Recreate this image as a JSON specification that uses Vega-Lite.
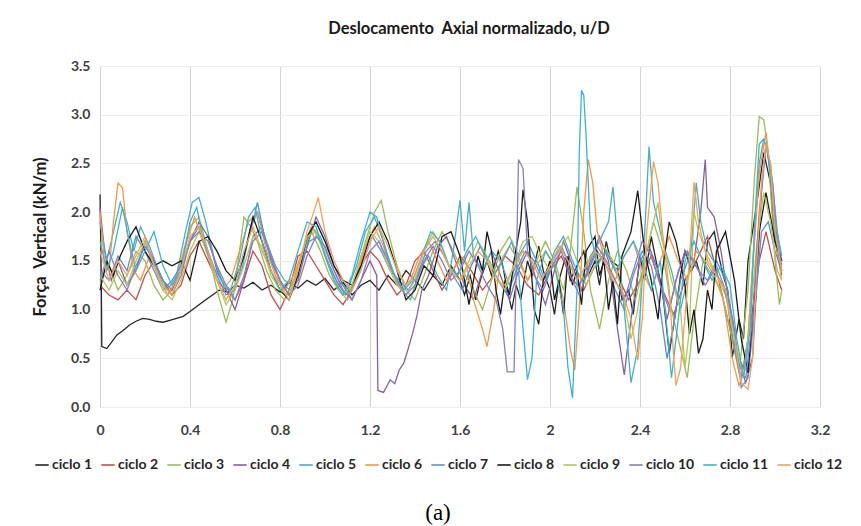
{
  "$schema": "https://vega.github.io/schema/vega-lite/v6.json",
  "width": 720,
  "height": 341,
  "autosize": {"type": "none"},
  "padding": {"left": 100, "top": 66, "right": 41, "bottom": 119},
  "background": "white",
  "title": {"text": "Deslocamento\u00a0 Axial normalizado, u/D", "font": "Lato", "fontSize": 16.5, "fontWeight": "bold", "color": "#1a1a1a", "anchor": "middle", "offset": 22, "dx": 9},
  "config": {
    "view": {"stroke": null},
    "axis": {"labelFont": "Lato", "labelFontWeight": "bold", "labelFontSize": 14, "labelColor": "#404040", "ticks": false, "domain": false, "titleFont": "Lato", "titleFontWeight": "bold", "titleFontSize": 16.5, "titleColor": "#1a1a1a"}
  },
  "datasets": {
    "c1": [
      {"u":0,"f":2.18},{"u":0.004,"f":1.6},{"u":0.006,"f":1.2},{"u":0.008,"f":0.62},{"u":0.03,"f":0.6},{"u":0.05,"f":0.66},{"u":0.075,"f":0.74},{"u":0.1,"f":0.78},{"u":0.13,"f":0.84},{"u":0.16,"f":0.88},{"u":0.19,"f":0.91},{"u":0.22,"f":0.9},{"u":0.25,"f":0.88},{"u":0.28,"f":0.87},{"u":0.31,"f":0.89},{"u":0.34,"f":0.91},{"u":0.37,"f":0.93},{"u":0.4,"f":0.98},{"u":0.44,"f":1.05},{"u":0.47,"f":1.1},{"u":0.5,"f":1.15},{"u":0.53,"f":1.2},{"u":0.57,"f":1.18},{"u":0.6,"f":1.25},{"u":0.64,"f":1.22},{"u":0.68,"f":1.28},{"u":0.72,"f":1.2},{"u":0.76,"f":1.25},{"u":0.8,"f":1.18},{"u":0.84,"f":1.28},{"u":0.88,"f":1.22},{"u":0.92,"f":1.3},{"u":0.96,"f":1.25},{"u":1.0,"f":1.32},{"u":1.04,"f":1.2},{"u":1.08,"f":1.28},{"u":1.12,"f":1.15},{"u":1.16,"f":1.25},{"u":1.2,"f":1.3},{"u":1.24,"f":1.2},{"u":1.28,"f":1.35},{"u":1.32,"f":1.25},{"u":1.36,"f":1.4},{"u":1.4,"f":1.3},{"u":1.44,"f":1.2},{"u":1.48,"f":1.35},{"u":1.52,"f":1.25},{"u":1.56,"f":1.45},{"u":1.6,"f":1.3},{"u":1.62,"f":1.15},{"u":1.645,"f":1.35},{"u":1.67,"f":1.1},{"u":1.69,"f":1.3},{"u":1.72,"f":1.5},{"u":1.74,"f":1.35},{"u":1.77,"f":1.6},{"u":1.79,"f":1.45},{"u":1.81,"f":1.2},{"u":1.83,"f":1.0},{"u":1.85,"f":1.25},{"u":1.87,"f":1.1},{"u":1.9,"f":1.5},{"u":1.92,"f":1.35},{"u":1.95,"f":1.65},{"u":1.97,"f":1.4},{"u":2.0,"f":1.2},{"u":2.02,"f":0.95},{"u":2.04,"f":1.3},{"u":2.07,"f":1.55},{"u":2.09,"f":1.3},{"u":2.12,"f":1.45},{"u":2.15,"f":1.6},{"u":2.17,"f":1.35},{"u":2.2,"f":1.5},{"u":2.22,"f":1.25},{"u":2.25,"f":1.7},{"u":2.27,"f":1.5},{"u":2.3,"f":1.45},{"u":2.32,"f":1.1},{"u":2.35,"f":1.2},{"u":2.37,"f":0.95},{"u":2.4,"f":1.55},{"u":2.42,"f":1.3},{"u":2.45,"f":1.75},{"u":2.48,"f":1.4},{"u":2.5,"f":1.2},{"u":2.53,"f":0.55},{"u":2.56,"f":1.0},{"u":2.58,"f":1.35},{"u":2.6,"f":1.6},{"u":2.63,"f":1.4},{"u":2.65,"f":1.5},{"u":2.68,"f":1.25},{"u":2.7,"f":1.7},{"u":2.73,"f":1.8},{"u":2.75,"f":1.55},{"u":2.77,"f":1.35},{"u":2.79,"f":1.2},{"u":2.81,"f":0.51},{"u":2.84,"f":0.9},{"u":2.86,"f":0.7},{"u":2.88,"f":1.5},{"u":2.92,"f":2.1},{"u":2.95,"f":2.61},{"u":2.98,"f":2.3},{"u":3.01,"f":1.6},{"u":3.03,"f":1.4}
    ],
    "c2": [
      {"u":0,"f":1.25},{"u":0.04,"f":1.15},{"u":0.08,"f":1.1},{"u":0.12,"f":1.2},{"u":0.16,"f":1.1},{"u":0.2,"f":1.35},{"u":0.24,"f":1.5},{"u":0.28,"f":1.3},{"u":0.32,"f":1.15},{"u":0.36,"f":1.25},{"u":0.4,"f":1.55},{"u":0.44,"f":1.7},{"u":0.48,"f":1.5},{"u":0.52,"f":1.3},{"u":0.56,"f":1.2},{"u":0.6,"f":1.1},{"u":0.64,"f":1.3},{"u":0.68,"f":1.6},{"u":0.72,"f":1.45},{"u":0.76,"f":1.15},{"u":0.8,"f":1.0},{"u":0.84,"f":1.2},{"u":0.88,"f":1.55},{"u":0.92,"f":1.6},{"u":0.96,"f":1.45},{"u":1.0,"f":1.3},{"u":1.04,"f":1.15},{"u":1.08,"f":1.05},{"u":1.12,"f":1.2},{"u":1.16,"f":1.45},{"u":1.2,"f":1.6},{"u":1.24,"f":1.5},{"u":1.28,"f":1.3},{"u":1.32,"f":1.15},{"u":1.36,"f":1.25},{"u":1.4,"f":1.5},{"u":1.44,"f":1.6},{"u":1.48,"f":1.4},{"u":1.52,"f":1.2},{"u":1.56,"f":1.35},{"u":1.6,"f":1.55},{"u":1.65,"f":1.4},{"u":1.7,"f":1.2},{"u":1.75,"f":1.35},{"u":1.8,"f":1.55},{"u":1.85,"f":1.45},{"u":1.9,"f":1.25},{"u":1.95,"f":1.15},{"u":2.0,"f":1.4},{"u":2.05,"f":1.55},{"u":2.1,"f":1.3},{"u":2.15,"f":1.2},{"u":2.2,"f":1.45},{"u":2.25,"f":1.6},{"u":2.3,"f":1.35},{"u":2.35,"f":1.1},{"u":2.4,"f":1.3},{"u":2.45,"f":1.55},{"u":2.5,"f":1.2},{"u":2.55,"f":0.95},{"u":2.6,"f":1.3},{"u":2.65,"f":1.5},{"u":2.7,"f":1.75},{"u":2.74,"f":1.4},{"u":2.78,"f":1.0},{"u":2.82,"f":0.6},{"u":2.86,"f":0.4},{"u":2.9,"f":1.0},{"u":2.93,"f":1.5},{"u":2.96,"f":1.8},{"u":3.0,"f":1.4},{"u":3.03,"f":1.2}
    ],
    "c3": [
      {"u":0,"f":1.3},{"u":0.04,"f":1.45},{"u":0.08,"f":1.2},{"u":0.12,"f":1.35},{"u":0.16,"f":1.6},{"u":0.2,"f":1.5},{"u":0.24,"f":1.25},{"u":0.28,"f":1.1},{"u":0.32,"f":1.2},{"u":0.36,"f":1.5},{"u":0.4,"f":1.85},{"u":0.44,"f":1.95},{"u":0.48,"f":1.6},{"u":0.52,"f":1.2},{"u":0.56,"f":0.87},{"u":0.59,"f":1.1},{"u":0.62,"f":1.6},{"u":0.64,"f":1.95},{"u":0.67,"f":1.85},{"u":0.7,"f":1.7},{"u":0.74,"f":1.4},{"u":0.78,"f":1.2},{"u":0.82,"f":1.1},{"u":0.86,"f":1.3},{"u":0.9,"f":1.6},{"u":0.94,"f":1.8},{"u":0.98,"f":1.6},{"u":1.02,"f":1.35},{"u":1.06,"f":1.2},{"u":1.1,"f":1.1},{"u":1.14,"f":1.35},{"u":1.18,"f":1.7},{"u":1.22,"f":2.0},{"u":1.25,"f":2.12},{"u":1.28,"f":1.8},{"u":1.32,"f":1.45},{"u":1.36,"f":1.2},{"u":1.4,"f":1.1},{"u":1.44,"f":1.35},{"u":1.48,"f":1.6},{"u":1.52,"f":1.8},{"u":1.56,"f":1.65},{"u":1.6,"f":1.45},{"u":1.65,"f":1.25},{"u":1.7,"f":1.0},{"u":1.74,"f":1.3},{"u":1.78,"f":1.6},{"u":1.82,"f":1.75},{"u":1.86,"f":1.55},{"u":1.9,"f":1.3},{"u":1.94,"f":1.5},{"u":1.98,"f":1.7},{"u":2.02,"f":1.5},{"u":2.06,"f":1.2},{"u":2.09,"f":1.6},{"u":2.12,"f":2.26},{"u":2.15,"f":1.8},{"u":2.18,"f":1.2},{"u":2.22,"f":0.8},{"u":2.26,"f":1.3},{"u":2.3,"f":1.6},{"u":2.34,"f":1.4},{"u":2.38,"f":1.1},{"u":2.42,"f":1.5},{"u":2.46,"f":1.9},{"u":2.5,"f":1.6},{"u":2.54,"f":1.0},{"u":2.58,"f":0.6},{"u":2.61,"f":0.3},{"u":2.64,"f":0.9},{"u":2.68,"f":1.5},{"u":2.72,"f":1.35},{"u":2.76,"f":1.2},{"u":2.8,"f":0.8},{"u":2.84,"f":0.35},{"u":2.88,"f":1.2},{"u":2.91,"f":2.4},{"u":2.93,"f":2.98},{"u":2.95,"f":2.95},{"u":2.97,"f":2.6},{"u":3.0,"f":1.5},{"u":3.02,"f":1.05},{"u":3.03,"f":1.2}
    ],
    "c4": [
      {"u":0,"f":2.05},{"u":0.02,"f":1.6},{"u":0.05,"f":1.3},{"u":0.08,"f":1.5},{"u":0.12,"f":1.25},{"u":0.16,"f":1.4},{"u":0.2,"f":1.7},{"u":0.24,"f":1.5},{"u":0.28,"f":1.3},{"u":0.32,"f":1.2},{"u":0.36,"f":1.4},{"u":0.4,"f":1.7},{"u":0.44,"f":1.9},{"u":0.48,"f":1.75},{"u":0.52,"f":1.4},{"u":0.56,"f":1.2},{"u":0.6,"f":1.0},{"u":0.64,"f":1.3},{"u":0.68,"f":1.75},{"u":0.72,"f":1.85},{"u":0.76,"f":1.5},{"u":0.8,"f":1.3},{"u":0.84,"f":1.15},{"u":0.88,"f":1.3},{"u":0.92,"f":1.65},{"u":0.96,"f":1.95},{"u":1.0,"f":1.75},{"u":1.04,"f":1.45},{"u":1.08,"f":1.25},{"u":1.12,"f":1.1},{"u":1.16,"f":1.3},{"u":1.2,"f":1.5},{"u":1.23,"f":1.35},{"u":1.235,"f":0.17},{"u":1.26,"f":0.15},{"u":1.29,"f":0.28},{"u":1.31,"f":0.24},{"u":1.33,"f":0.38},{"u":1.35,"f":0.45},{"u":1.37,"f":0.6},{"u":1.39,"f":0.76},{"u":1.41,"f":0.95},{"u":1.43,"f":1.2},{"u":1.46,"f":1.35},{"u":1.5,"f":1.65},{"u":1.54,"f":1.75},{"u":1.58,"f":1.5},{"u":1.62,"f":1.25},{"u":1.66,"f":1.1},{"u":1.7,"f":1.4},{"u":1.74,"f":1.6},{"u":1.78,"f":1.35},{"u":1.82,"f":1.1},{"u":1.86,"f":1.4},{"u":1.9,"f":1.6},{"u":1.94,"f":1.3},{"u":1.98,"f":1.05},{"u":2.02,"f":1.4},{"u":2.06,"f":1.7},{"u":2.1,"f":1.45},{"u":2.14,"f":1.2},{"u":2.18,"f":1.5},{"u":2.22,"f":1.75},{"u":2.26,"f":1.5},{"u":2.3,"f":0.8},{"u":2.33,"f":0.33},{"u":2.36,"f":0.9},{"u":2.4,"f":1.5},{"u":2.44,"f":1.65},{"u":2.48,"f":1.4},{"u":2.52,"f":0.9},{"u":2.56,"f":1.3},{"u":2.6,"f":1.6},{"u":2.64,"f":1.5},{"u":2.67,"f":2.0},{"u":2.69,"f":2.54},{"u":2.7,"f":2.05},{"u":2.73,"f":1.95},{"u":2.76,"f":1.6},{"u":2.8,"f":1.0},{"u":2.84,"f":0.45},{"u":2.87,"f":0.25},{"u":2.9,"f":0.5},{"u":2.92,"f":1.3},{"u":2.94,"f":2.2},{"u":2.96,"f":2.7},{"u":2.98,"f":2.4},{"u":3.0,"f":1.7},{"u":3.03,"f":1.35}
    ],
    "c5": [
      {"u":0,"f":1.9},{"u":0.03,"f":1.5},{"u":0.06,"f":1.8},{"u":0.09,"f":2.1},{"u":0.12,"f":1.9},{"u":0.15,"f":1.6},{"u":0.18,"f":1.85},{"u":0.22,"f":1.65},{"u":0.26,"f":1.4},{"u":0.3,"f":1.2},{"u":0.34,"f":1.35},{"u":0.38,"f":1.8},{"u":0.41,"f":2.1},{"u":0.44,"f":2.15},{"u":0.47,"f":1.9},{"u":0.51,"f":1.5},{"u":0.55,"f":1.25},{"u":0.59,"f":1.15},{"u":0.63,"f":1.4},{"u":0.67,"f":1.85},{"u":0.7,"f":2.0},{"u":0.74,"f":1.7},{"u":0.78,"f":1.45},{"u":0.82,"f":1.3},{"u":0.86,"f":1.25},{"u":0.9,"f":1.55},{"u":0.94,"f":1.85},{"u":0.98,"f":1.75},{"u":1.02,"f":1.5},{"u":1.06,"f":1.3},{"u":1.1,"f":1.2},{"u":1.14,"f":1.45},{"u":1.18,"f":1.8},{"u":1.22,"f":1.95},{"u":1.26,"f":1.7},{"u":1.3,"f":1.4},{"u":1.34,"f":1.2},{"u":1.38,"f":1.1},{"u":1.42,"f":1.4},{"u":1.46,"f":1.55},{"u":1.5,"f":1.35},{"u":1.54,"f":1.2},{"u":1.57,"f":1.6},{"u":1.6,"f":2.12},{"u":1.62,"f":1.6},{"u":1.64,"f":2.1},{"u":1.66,"f":1.55},{"u":1.7,"f":1.4},{"u":1.74,"f":1.6},{"u":1.78,"f":1.5},{"u":1.82,"f":1.25},{"u":1.86,"f":1.55},{"u":1.9,"f":1.7},{"u":1.94,"f":1.5},{"u":1.98,"f":1.3},{"u":2.02,"f":1.6},{"u":2.06,"f":1.75},{"u":2.1,"f":1.5},{"u":2.14,"f":1.3},{"u":2.18,"f":1.55},{"u":2.22,"f":1.7},{"u":2.26,"f":1.9},{"u":2.28,"f":2.26},{"u":2.3,"f":1.7},{"u":2.33,"f":1.0},{"u":2.36,"f":0.25},{"u":2.39,"f":0.6},{"u":2.41,"f":1.3},{"u":2.43,"f":2.2},{"u":2.44,"f":2.67},{"u":2.46,"f":2.1},{"u":2.5,"f":1.7},{"u":2.54,"f":1.4},{"u":2.58,"f":1.0},{"u":2.62,"f":1.4},{"u":2.65,"f":2.3},{"u":2.67,"f":1.9},{"u":2.7,"f":1.6},{"u":2.74,"f":1.45},{"u":2.78,"f":1.2},{"u":2.82,"f":0.6},{"u":2.85,"f":0.3},{"u":2.88,"f":0.7},{"u":2.91,"f":1.8},{"u":2.93,"f":2.5},{"u":2.95,"f":2.75},{"u":2.98,"f":2.5},{"u":3.01,"f":1.8},{"u":3.03,"f":1.5}
    ],
    "c6": [
      {"u":0,"f":2.0},{"u":0.02,"f":1.5},{"u":0.04,"f":1.4},{"u":0.06,"f":1.9},{"u":0.08,"f":2.3},{"u":0.1,"f":2.25},{"u":0.12,"f":1.8},{"u":0.15,"f":1.4},{"u":0.18,"f":1.3},{"u":0.22,"f":1.55},{"u":0.26,"f":1.35},{"u":0.3,"f":1.15},{"u":0.34,"f":1.3},{"u":0.38,"f":1.65},{"u":0.42,"f":1.95},{"u":0.46,"f":1.7},{"u":0.5,"f":1.4},{"u":0.54,"f":1.2},{"u":0.58,"f":1.3},{"u":0.62,"f":1.6},{"u":0.66,"f":1.9},{"u":0.7,"f":2.0},{"u":0.74,"f":1.6},{"u":0.78,"f":1.35},{"u":0.82,"f":1.2},{"u":0.86,"f":1.35},{"u":0.9,"f":1.6},{"u":0.94,"f":1.85},{"u":0.98,"f":1.7},{"u":1.02,"f":1.45},{"u":1.06,"f":1.25},{"u":1.1,"f":1.15},{"u":1.14,"f":1.35},{"u":1.18,"f":1.65},{"u":1.22,"f":1.85},{"u":1.26,"f":1.65},{"u":1.3,"f":1.35},{"u":1.34,"f":1.2},{"u":1.38,"f":1.3},{"u":1.42,"f":1.55},{"u":1.46,"f":1.7},{"u":1.5,"f":1.5},{"u":1.54,"f":1.3},{"u":1.58,"f":1.45},{"u":1.62,"f":1.55},{"u":1.66,"f":1.1},{"u":1.7,"f":0.8},{"u":1.72,"f":0.62},{"u":1.75,"f":1.0},{"u":1.78,"f":1.5},{"u":1.82,"f":1.65},{"u":1.86,"f":1.5},{"u":1.9,"f":1.3},{"u":1.94,"f":1.45},{"u":1.98,"f":1.6},{"u":2.02,"f":1.45},{"u":2.06,"f":1.1},{"u":2.09,"f":0.6},{"u":2.11,"f":0.38},{"u":2.13,"f":1.0},{"u":2.15,"f":2.0},{"u":2.17,"f":2.54},{"u":2.19,"f":2.3},{"u":2.21,"f":1.8},{"u":2.25,"f":1.45},{"u":2.29,"f":1.3},{"u":2.33,"f":1.55},{"u":2.37,"f":1.7},{"u":2.41,"f":1.4},{"u":2.45,"f":1.2},{"u":2.49,"f":1.5},{"u":2.53,"f":1.75},{"u":2.57,"f":1.5},{"u":2.61,"f":1.3},{"u":2.65,"f":1.6},{"u":2.69,"f":1.5},{"u":2.73,"f":1.35},{"u":2.77,"f":1.1},{"u":2.81,"f":0.5},{"u":2.84,"f":0.22},{"u":2.87,"f":0.4},{"u":2.9,"f":1.4},{"u":2.93,"f":2.4},{"u":2.96,"f":2.82},{"u":2.99,"f":2.2},{"u":3.01,"f":1.6},{"u":3.03,"f":1.3}
    ],
    "c7": [
      {"u":0,"f":1.4},{"u":0.04,"f":1.3},{"u":0.08,"f":1.55},{"u":0.12,"f":1.4},{"u":0.16,"f":1.75},{"u":0.2,"f":1.6},{"u":0.24,"f":1.4},{"u":0.28,"f":1.2},{"u":0.32,"f":1.3},{"u":0.36,"f":1.45},{"u":0.4,"f":1.7},{"u":0.44,"f":1.85},{"u":0.48,"f":1.6},{"u":0.52,"f":1.35},{"u":0.56,"f":1.15},{"u":0.6,"f":1.2},{"u":0.64,"f":1.55},{"u":0.68,"f":1.9},{"u":0.7,"f":2.1},{"u":0.73,"f":1.75},{"u":0.77,"f":1.45},{"u":0.81,"f":1.25},{"u":0.85,"f":1.2},{"u":0.89,"f":1.45},{"u":0.93,"f":1.7},{"u":0.97,"f":1.75},{"u":1.01,"f":1.5},{"u":1.05,"f":1.3},{"u":1.09,"f":1.15},{"u":1.13,"f":1.25},{"u":1.17,"f":1.5},{"u":1.21,"f":1.75},{"u":1.25,"f":1.6},{"u":1.29,"f":1.4},{"u":1.33,"f":1.3},{"u":1.37,"f":1.2},{"u":1.41,"f":1.35},{"u":1.45,"f":1.6},{"u":1.49,"f":1.7},{"u":1.53,"f":1.55},{"u":1.57,"f":1.35},{"u":1.61,"f":1.2},{"u":1.65,"f":1.45},{"u":1.69,"f":1.65},{"u":1.73,"f":1.5},{"u":1.77,"f":1.3},{"u":1.81,"f":1.15},{"u":1.85,"f":1.4},{"u":1.89,"f":1.6},{"u":1.93,"f":1.5},{"u":1.97,"f":1.3},{"u":2.01,"f":1.5},{"u":2.05,"f":1.65},{"u":2.09,"f":1.45},{"u":2.13,"f":1.25},{"u":2.17,"f":1.4},{"u":2.21,"f":1.6},{"u":2.25,"f":1.45},{"u":2.29,"f":1.2},{"u":2.33,"f":1.0},{"u":2.37,"f":1.35},{"u":2.41,"f":1.6},{"u":2.45,"f":1.45},{"u":2.49,"f":1.0},{"u":2.52,"f":0.5},{"u":2.55,"f":0.85},{"u":2.58,"f":1.3},{"u":2.62,"f":1.55},{"u":2.66,"f":1.4},{"u":2.7,"f":1.3},{"u":2.74,"f":1.5},{"u":2.78,"f":1.3},{"u":2.82,"f":0.8},{"u":2.85,"f":0.2},{"u":2.88,"f":0.3},{"u":2.91,"f":1.0},{"u":2.94,"f":1.8},{"u":2.97,"f":1.9},{"u":3.0,"f":1.6},{"u":3.03,"f":1.4}
    ],
    "c8": [
      {"u":0,"f":1.2},{"u":0.03,"f":1.5},{"u":0.06,"f":1.35},{"u":0.09,"f":1.55},{"u":0.12,"f":1.7},{"u":0.16,"f":1.85},{"u":0.2,"f":1.6},{"u":0.24,"f":1.45},{"u":0.28,"f":1.5},{"u":0.32,"f":1.45},{"u":0.36,"f":1.5},{"u":0.4,"f":1.3},{"u":0.44,"f":1.7},{"u":0.48,"f":1.75},{"u":0.52,"f":1.6},{"u":0.56,"f":1.4},{"u":0.6,"f":1.3},{"u":0.64,"f":1.55},{"u":0.68,"f":1.95},{"u":0.72,"f":1.7},{"u":0.76,"f":1.4},{"u":0.8,"f":1.2},{"u":0.84,"f":1.1},{"u":0.88,"f":1.35},{"u":0.92,"f":1.75},{"u":0.96,"f":1.9},{"u":1.0,"f":1.7},{"u":1.04,"f":1.45},{"u":1.08,"f":1.3},{"u":1.12,"f":1.25},{"u":1.16,"f":1.45},{"u":1.2,"f":1.75},{"u":1.24,"f":1.9},{"u":1.28,"f":1.7},{"u":1.32,"f":1.4},{"u":1.36,"f":1.1},{"u":1.4,"f":1.2},{"u":1.44,"f":1.45},{"u":1.48,"f":1.35},{"u":1.52,"f":1.75},{"u":1.56,"f":1.8},{"u":1.6,"f":1.55},{"u":1.62,"f":1.3},{"u":1.64,"f":1.05},{"u":1.66,"f":1.3},{"u":1.68,"f":1.55},{"u":1.7,"f":1.4},{"u":1.72,"f":1.8},{"u":1.74,"f":1.6},{"u":1.76,"f":1.2},{"u":1.78,"f":0.95},{"u":1.8,"f":1.3},{"u":1.82,"f":1.15},{"u":1.84,"f":1.5},{"u":1.87,"f":1.9},{"u":1.88,"f":2.23},{"u":1.9,"f":1.9},{"u":1.93,"f":1.0},{"u":1.95,"f":0.85},{"u":1.97,"f":1.3},{"u":2.0,"f":1.5},{"u":2.02,"f":1.1},{"u":2.04,"f":1.3},{"u":2.06,"f":0.95},{"u":2.08,"f":1.55},{"u":2.1,"f":1.25},{"u":2.12,"f":1.4},{"u":2.14,"f":1.05},{"u":2.16,"f":1.6},{"u":2.2,"f":1.75},{"u":2.22,"f":1.35},{"u":2.24,"f":1.5},{"u":2.26,"f":1.0},{"u":2.28,"f":1.3},{"u":2.3,"f":0.85},{"u":2.32,"f":1.55},{"u":2.36,"f":1.8},{"u":2.39,"f":2.22},{"u":2.42,"f":1.6},{"u":2.45,"f":1.3},{"u":2.48,"f":0.9},{"u":2.5,"f":1.4},{"u":2.53,"f":1.9},{"u":2.56,"f":1.7},{"u":2.6,"f":1.25},{"u":2.62,"f":0.75},{"u":2.64,"f":1.0},{"u":2.66,"f":0.55},{"u":2.68,"f":0.7},{"u":2.7,"f":1.2},{"u":2.72,"f":1.0},{"u":2.74,"f":1.6},{"u":2.78,"f":1.8},{"u":2.82,"f":1.3},{"u":2.85,"f":0.7},{"u":2.88,"f":0.35},{"u":2.9,"f":0.9},{"u":2.93,"f":1.8},{"u":2.96,"f":2.2},{"u":3.0,"f":1.7},{"u":3.03,"f":1.5}
    ],
    "c9": [
      {"u":0,"f":1.35},{"u":0.04,"f":1.2},{"u":0.08,"f":1.4},{"u":0.12,"f":1.25},{"u":0.16,"f":1.5},{"u":0.2,"f":1.7},{"u":0.24,"f":1.45},{"u":0.28,"f":1.2},{"u":0.32,"f":1.1},{"u":0.36,"f":1.3},{"u":0.4,"f":1.6},{"u":0.44,"f":1.8},{"u":0.48,"f":1.55},{"u":0.52,"f":1.3},{"u":0.56,"f":1.05},{"u":0.6,"f":1.2},{"u":0.64,"f":1.45},{"u":0.68,"f":1.75},{"u":0.72,"f":1.65},{"u":0.76,"f":1.35},{"u":0.8,"f":1.2},{"u":0.84,"f":1.15},{"u":0.88,"f":1.4},{"u":0.92,"f":1.75},{"u":0.96,"f":1.8},{"u":1.0,"f":1.55},{"u":1.04,"f":1.3},{"u":1.08,"f":1.15},{"u":1.12,"f":1.25},{"u":1.16,"f":1.55},{"u":1.2,"f":1.8},{"u":1.24,"f":1.7},{"u":1.28,"f":1.45},{"u":1.32,"f":1.25},{"u":1.36,"f":1.15},{"u":1.4,"f":1.3},{"u":1.44,"f":1.6},{"u":1.48,"f":1.8},{"u":1.52,"f":1.65},{"u":1.56,"f":1.4},{"u":1.6,"f":1.3},{"u":1.64,"f":1.5},{"u":1.68,"f":1.7},{"u":1.72,"f":1.55},{"u":1.76,"f":1.35},{"u":1.8,"f":1.2},{"u":1.84,"f":1.45},{"u":1.88,"f":1.7},{"u":1.92,"f":1.75},{"u":1.96,"f":1.55},{"u":2.0,"f":1.4},{"u":2.04,"f":1.6},{"u":2.08,"f":1.75},{"u":2.12,"f":1.5},{"u":2.16,"f":1.25},{"u":2.2,"f":1.45},{"u":2.24,"f":1.65},{"u":2.28,"f":1.5},{"u":2.32,"f":1.2},{"u":2.36,"f":0.7},{"u":2.39,"f":1.0},{"u":2.42,"f":1.5},{"u":2.45,"f":1.8},{"u":2.48,"f":2.1},{"u":2.5,"f":1.7},{"u":2.54,"f":1.3},{"u":2.58,"f":1.0},{"u":2.6,"f":0.4},{"u":2.62,"f":0.8},{"u":2.64,"f":2.0},{"u":2.66,"f":1.8},{"u":2.7,"f":1.55},{"u":2.74,"f":1.35},{"u":2.78,"f":1.15},{"u":2.82,"f":0.7},{"u":2.86,"f":0.3},{"u":2.89,"f":0.9},{"u":2.92,"f":1.7},{"u":2.95,"f":2.2},{"u":2.98,"f":1.9},{"u":3.01,"f":1.4},{"u":3.03,"f":1.3}
    ],
    "c10": [
      {"u":0,"f":1.3},{"u":0.04,"f":1.6},{"u":0.08,"f":1.35},{"u":0.12,"f":1.2},{"u":0.16,"f":1.45},{"u":0.2,"f":1.65},{"u":0.24,"f":1.5},{"u":0.28,"f":1.25},{"u":0.32,"f":1.15},{"u":0.36,"f":1.35},{"u":0.4,"f":1.7},{"u":0.44,"f":1.8},{"u":0.48,"f":1.7},{"u":0.52,"f":1.45},{"u":0.56,"f":1.25},{"u":0.6,"f":1.1},{"u":0.64,"f":1.35},{"u":0.68,"f":1.7},{"u":0.72,"f":1.8},{"u":0.76,"f":1.55},{"u":0.8,"f":1.3},{"u":0.84,"f":1.15},{"u":0.88,"f":1.25},{"u":0.92,"f":1.55},{"u":0.96,"f":1.75},{"u":1.0,"f":1.65},{"u":1.04,"f":1.4},{"u":1.08,"f":1.2},{"u":1.12,"f":1.1},{"u":1.16,"f":1.3},{"u":1.2,"f":1.6},{"u":1.24,"f":1.7},{"u":1.28,"f":1.5},{"u":1.32,"f":1.3},{"u":1.36,"f":1.15},{"u":1.4,"f":1.25},{"u":1.44,"f":1.5},{"u":1.48,"f":1.65},{"u":1.52,"f":1.5},{"u":1.56,"f":1.3},{"u":1.6,"f":1.4},{"u":1.64,"f":1.6},{"u":1.68,"f":1.45},{"u":1.72,"f":1.25},{"u":1.76,"f":1.1},{"u":1.79,"f":0.8},{"u":1.81,"f":0.36},{"u":1.84,"f":0.36},{"u":1.85,"f":1.4},{"u":1.86,"f":2.54},{"u":1.88,"f":2.45},{"u":1.9,"f":1.6},{"u":1.93,"f":1.35},{"u":1.97,"f":1.2},{"u":2.01,"f":1.45},{"u":2.05,"f":1.6},{"u":2.09,"f":1.35},{"u":2.13,"f":1.15},{"u":2.17,"f":1.4},{"u":2.21,"f":1.65},{"u":2.25,"f":1.5},{"u":2.29,"f":1.3},{"u":2.33,"f":1.1},{"u":2.37,"f":1.4},{"u":2.41,"f":1.7},{"u":2.45,"f":1.55},{"u":2.49,"f":1.25},{"u":2.53,"f":1.0},{"u":2.57,"f":1.4},{"u":2.61,"f":1.6},{"u":2.65,"f":1.45},{"u":2.69,"f":1.25},{"u":2.73,"f":1.4},{"u":2.77,"f":1.25},{"u":2.81,"f":0.9},{"u":2.84,"f":0.35},{"u":2.87,"f":0.3},{"u":2.9,"f":0.9},{"u":2.93,"f":2.0},{"u":2.96,"f":2.7},{"u":2.99,"f":2.3},{"u":3.01,"f":1.7},{"u":3.03,"f":1.45}
    ],
    "c11": [
      {"u":0,"f":1.7},{"u":0.03,"f":1.4},{"u":0.06,"f":1.6},{"u":0.1,"f":2.05},{"u":0.13,"f":1.7},{"u":0.16,"f":1.4},{"u":0.2,"f":1.6},{"u":0.24,"f":1.8},{"u":0.28,"f":1.45},{"u":0.32,"f":1.25},{"u":0.36,"f":1.4},{"u":0.4,"f":1.9},{"u":0.43,"f":2.05},{"u":0.46,"f":1.7},{"u":0.5,"f":1.45},{"u":0.54,"f":1.3},{"u":0.58,"f":1.2},{"u":0.62,"f":1.5},{"u":0.66,"f":1.95},{"u":0.69,"f":2.05},{"u":0.72,"f":1.7},{"u":0.76,"f":1.4},{"u":0.8,"f":1.2},{"u":0.84,"f":1.3},{"u":0.88,"f":1.6},{"u":0.92,"f":1.9},{"u":0.96,"f":1.85},{"u":1.0,"f":1.55},{"u":1.04,"f":1.3},{"u":1.08,"f":1.15},{"u":1.12,"f":1.35},{"u":1.16,"f":1.7},{"u":1.2,"f":2.0},{"u":1.23,"f":1.95},{"u":1.27,"f":1.6},{"u":1.31,"f":1.35},{"u":1.35,"f":1.2},{"u":1.39,"f":1.3},{"u":1.43,"f":1.55},{"u":1.47,"f":1.8},{"u":1.51,"f":1.7},{"u":1.55,"f":1.45},{"u":1.59,"f":1.35},{"u":1.63,"f":1.6},{"u":1.67,"f":1.75},{"u":1.71,"f":1.55},{"u":1.75,"f":1.35},{"u":1.79,"f":1.5},{"u":1.83,"f":1.7},{"u":1.86,"f":1.4},{"u":1.88,"f":0.8},{"u":1.9,"f":0.28},{"u":1.92,"f":0.5},{"u":1.94,"f":1.3},{"u":1.98,"f":1.6},{"u":2.02,"f":1.45},{"u":2.06,"f":1.0},{"u":2.08,"f":0.4},{"u":2.1,"f":0.09},{"u":2.12,"f":1.2},{"u":2.13,"f":2.6},{"u":2.14,"f":3.25},{"u":2.15,"f":3.2},{"u":2.16,"f":2.8},{"u":2.18,"f":1.8},{"u":2.21,"f":1.45},{"u":2.25,"f":1.6},{"u":2.29,"f":1.4},{"u":2.33,"f":1.55},{"u":2.37,"f":1.7},{"u":2.41,"f":1.5},{"u":2.45,"f":1.2},{"u":2.49,"f":1.5},{"u":2.52,"f":0.8},{"u":2.54,"f":0.3},{"u":2.57,"f":0.9},{"u":2.6,"f":1.5},{"u":2.64,"f":1.7},{"u":2.68,"f":1.5},{"u":2.72,"f":1.3},{"u":2.76,"f":1.45},{"u":2.8,"f":1.25},{"u":2.83,"f":0.7},{"u":2.86,"f":0.3},{"u":2.89,"f":0.8},{"u":2.91,"f":1.9},{"u":2.93,"f":2.7},{"u":2.95,"f":2.75},{"u":2.97,"f":2.6},{"u":3.0,"f":1.9},{"u":3.03,"f":1.55}
    ],
    "c12": [
      {"u":0,"f":1.6},{"u":0.04,"f":1.3},{"u":0.08,"f":1.5},{"u":0.12,"f":1.35},{"u":0.16,"f":1.55},{"u":0.2,"f":1.75},{"u":0.24,"f":1.45},{"u":0.28,"f":1.25},{"u":0.32,"f":1.15},{"u":0.36,"f":1.4},{"u":0.4,"f":1.75},{"u":0.44,"f":1.85},{"u":0.48,"f":1.6},{"u":0.52,"f":1.3},{"u":0.56,"f":1.1},{"u":0.6,"f":1.25},{"u":0.64,"f":1.6},{"u":0.68,"f":1.85},{"u":0.72,"f":1.6},{"u":0.76,"f":1.4},{"u":0.8,"f":1.25},{"u":0.84,"f":1.1},{"u":0.88,"f":1.4},{"u":0.92,"f":1.8},{"u":0.95,"f":2.0},{"u":0.97,"f":2.15},{"u":1.0,"f":1.8},{"u":1.04,"f":1.5},{"u":1.08,"f":1.3},{"u":1.12,"f":1.2},{"u":1.16,"f":1.4},{"u":1.2,"f":1.7},{"u":1.24,"f":1.85},{"u":1.28,"f":1.65},{"u":1.32,"f":1.4},{"u":1.36,"f":1.25},{"u":1.4,"f":1.35},{"u":1.44,"f":1.6},{"u":1.48,"f":1.75},{"u":1.52,"f":1.6},{"u":1.56,"f":1.4},{"u":1.6,"f":1.3},{"u":1.64,"f":1.45},{"u":1.68,"f":1.6},{"u":1.72,"f":1.5},{"u":1.76,"f":1.3},{"u":1.8,"f":1.25},{"u":1.84,"f":1.45},{"u":1.88,"f":1.6},{"u":1.92,"f":1.5},{"u":1.96,"f":1.3},{"u":2.0,"f":1.45},{"u":2.04,"f":1.65},{"u":2.08,"f":1.5},{"u":2.12,"f":1.3},{"u":2.16,"f":1.45},{"u":2.2,"f":1.6},{"u":2.24,"f":1.5},{"u":2.28,"f":1.3},{"u":2.32,"f":1.2},{"u":2.36,"f":0.9},{"u":2.39,"f":0.48},{"u":2.41,"f":0.9},{"u":2.43,"f":1.8},{"u":2.46,"f":2.52},{"u":2.48,"f":2.3},{"u":2.5,"f":1.8},{"u":2.53,"f":1.2},{"u":2.55,"f":0.5},{"u":2.56,"f":0.22},{"u":2.58,"f":0.4},{"u":2.61,"f":1.2},{"u":2.63,"f":1.9},{"u":2.64,"f":2.31},{"u":2.66,"f":1.9},{"u":2.7,"f":1.5},{"u":2.74,"f":1.35},{"u":2.78,"f":1.2},{"u":2.82,"f":0.7},{"u":2.85,"f":0.25},{"u":2.88,"f":0.18},{"u":2.9,"f":0.5},{"u":2.92,"f":1.5},{"u":2.94,"f":2.3},{"u":2.96,"f":2.7},{"u":2.98,"f":2.5},{"u":3.0,"f":1.8},{"u":3.03,"f":1.4}
    ]
  },
  "encoding": {
    "x": {"field": "u", "type": "quantitative", "scale": {"domain": [0, 3.2], "nice": false}, "axis": {"values": [0, 0.4, 0.8, 1.2, 1.6, 2, 2.4, 2.8, 3.2], "format": "~g", "title": null, "labelPadding": 16, "gridColor": "#d4d4d4", "labelFlush": false}},
    "y": {"field": "f", "type": "quantitative", "scale": {"domain": [0, 3.5], "nice": false}, "axis": {"values": [0, 0.5, 1, 1.5, 2, 2.5, 3, 3.5], "format": ".1f", "title": "Força\u00a0 Vertical (kN/m)", "labelPadding": 10, "titlePadding": 22, "gridColor": "#ebebeb"}},
    "color": {"type": "nominal", "scale": {"domain": ["ciclo 1","ciclo 2","ciclo 3","ciclo 4","ciclo 5","ciclo 6","ciclo 7","ciclo 8","ciclo 9","ciclo 10","ciclo 11","ciclo 12"], "range": ["#262626","#c0504d","#9bbb59","#8064a2","#4bacc6","#f79646","#5b8fd4","#1a1a1a","#b0c85e","#8d7cc0","#3fb2cf","#f4a259"]},
      "legend": {"orient": "none", "legendX": -66, "legendY": 391, "direction": "horizontal", "columns": 12, "symbolType": "stroke", "symbolSize": 180, "symbolStrokeWidth": 1.6, "columnPadding": 5, "labelOffset": 2, "labelFont": "Lato", "labelFontWeight": "bold", "labelFontSize": 14, "labelColor": "#262626", "title": "(a)", "titleOrient": "bottom", "titleAnchor": "middle", "titleFont": "Liberation Serif", "titleFontWeight": "normal", "titleFontSize": 23, "titleColor": "#000000", "titlePadding": 30}}
  },
  "layer": [
    {"data": {"name": "c1"}, "mark": {"type": "line", "strokeWidth": 1.3}, "encoding": {"color": {"datum": "ciclo 1"}}},
    {"data": {"name": "c2"}, "mark": {"type": "line", "strokeWidth": 1.3}, "encoding": {"color": {"datum": "ciclo 2"}}},
    {"data": {"name": "c3"}, "mark": {"type": "line", "strokeWidth": 1.3}, "encoding": {"color": {"datum": "ciclo 3"}}},
    {"data": {"name": "c4"}, "mark": {"type": "line", "strokeWidth": 1.3}, "encoding": {"color": {"datum": "ciclo 4"}}},
    {"data": {"name": "c5"}, "mark": {"type": "line", "strokeWidth": 1.3}, "encoding": {"color": {"datum": "ciclo 5"}}},
    {"data": {"name": "c6"}, "mark": {"type": "line", "strokeWidth": 1.3}, "encoding": {"color": {"datum": "ciclo 6"}}},
    {"data": {"name": "c7"}, "mark": {"type": "line", "strokeWidth": 1.3}, "encoding": {"color": {"datum": "ciclo 7"}}},
    {"data": {"name": "c8"}, "mark": {"type": "line", "strokeWidth": 1.3}, "encoding": {"color": {"datum": "ciclo 8"}}},
    {"data": {"name": "c9"}, "mark": {"type": "line", "strokeWidth": 1.3}, "encoding": {"color": {"datum": "ciclo 9"}}},
    {"data": {"name": "c10"}, "mark": {"type": "line", "strokeWidth": 1.3}, "encoding": {"color": {"datum": "ciclo 10"}}},
    {"data": {"name": "c11"}, "mark": {"type": "line", "strokeWidth": 1.3}, "encoding": {"color": {"datum": "ciclo 11"}}},
    {"data": {"name": "c12"}, "mark": {"type": "line", "strokeWidth": 1.3}, "encoding": {"color": {"datum": "ciclo 12"}}}
  ]
}
